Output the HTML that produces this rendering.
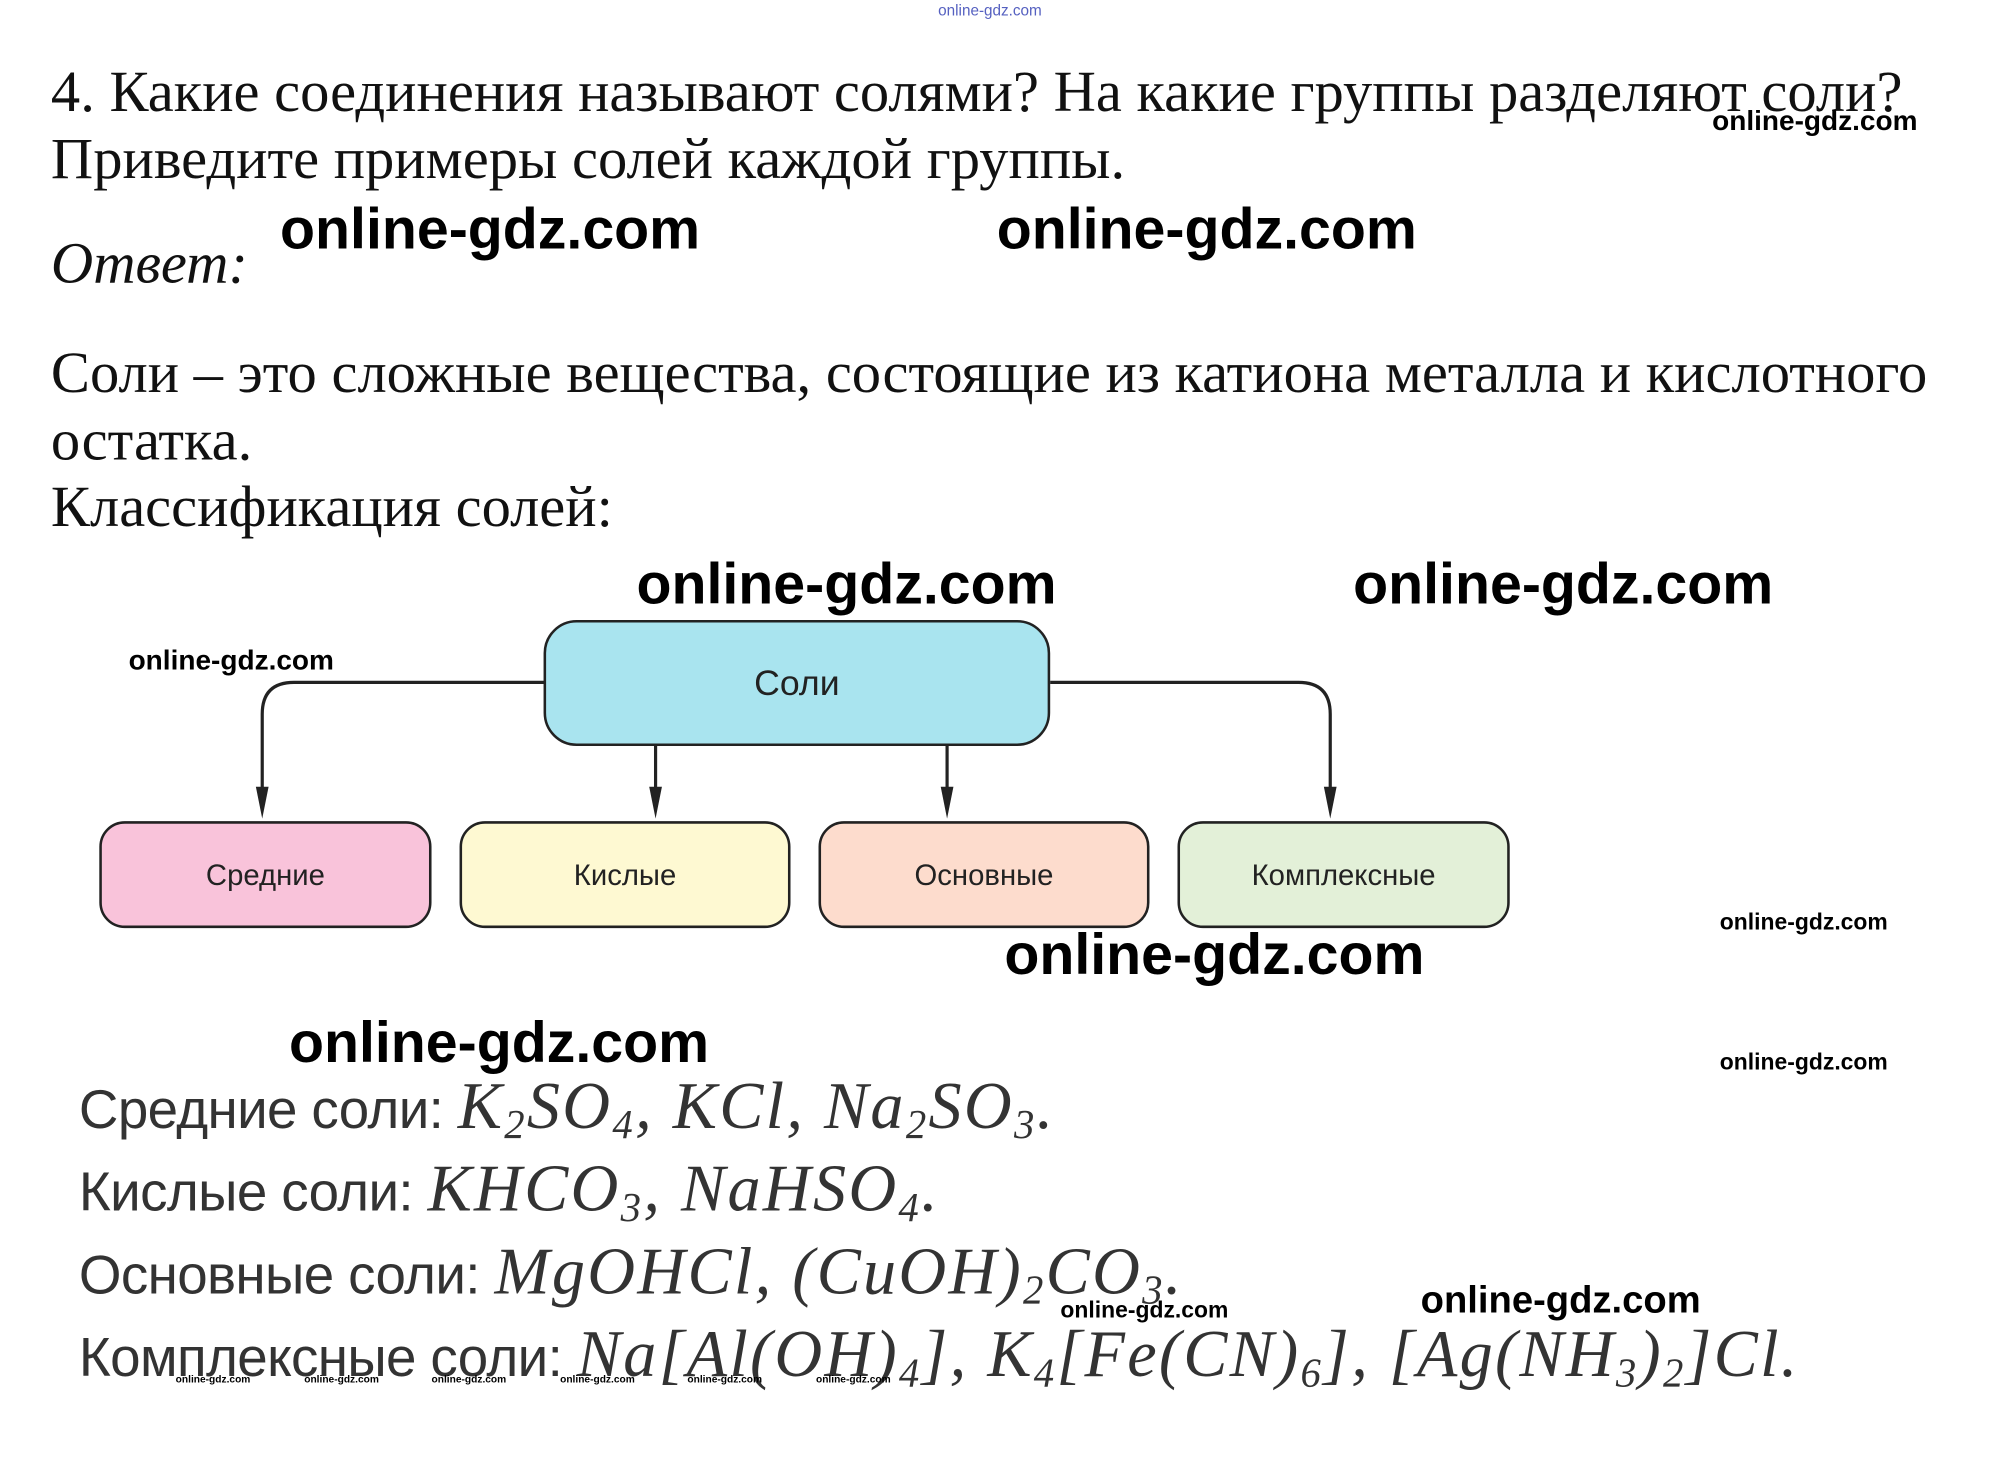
<!DOCTYPE html>
<html><head><meta charset="utf-8"><style>
html,body{margin:0;padding:0;background:#fff;width:1996px;height:1473px;overflow:hidden}
#w{position:absolute;left:0;top:0;width:1568px;height:1157px;transform:scale(1.27296,1.2731);transform-origin:0 0}
.t{position:absolute;white-space:nowrap;line-height:1}
.s{font-family:"Liberation Serif","Noto Serif CJK SC",serif;font-size:46px;color:#111}
.wm{font-family:"Liberation Sans",sans-serif;font-weight:bold;color:#000}
.big{font-size:45px}
.box{position:absolute;border:2.5px solid #222;border-radius:20px;box-sizing:border-box;display:flex;align-items:center;justify-content:center;font-family:"Liberation Sans",sans-serif;font-size:23px;color:#222}
.f{font-family:"Liberation Sans",sans-serif;font-size:43px;color:#333;letter-spacing:-0.5px}
.m{font-family:"Liberation Serif",serif;font-style:italic;font-size:52px;color:#333;letter-spacing:1.8px}
.m sub{font-size:32px;vertical-align:-8px}
</style></head><body><div id="w">
<div class="t" style="left:737px;top:2px;font-family:'Liberation Sans',sans-serif;font-size:12px;color:#5560c0">online-gdz.com</div>
<div class="t s" style="left:40px;top:49px">4. Какие соединения называют солями? На какие группы разделяют соли?</div>
<div class="t wm" style="left:1345px;top:84px;font-size:22px">online-gdz.com</div>
<div class="t s" style="left:40px;top:102px">Приведите примеры солей каждой группы.</div>
<div class="t wm big" style="left:220px;top:157px">online-gdz.com</div>
<div class="t wm big" style="left:783px;top:157px">online-gdz.com</div>
<div class="t s" style="left:40px;top:184px;font-style:italic">Ответ:</div>
<div class="t s" style="left:40px;top:270px">Соли – это сложные вещества, состоящие из катиона металла и кислотного</div>
<div class="t s" style="left:40px;top:323px">остатка.</div>
<div class="t s" style="left:40px;top:375px">Классификация солей:</div>
<div class="t wm big" style="left:500px;top:436px">online-gdz.com</div>
<div class="t wm big" style="left:1063px;top:436px">online-gdz.com</div>
<div class="t wm" style="left:101px;top:508px;font-size:22px">online-gdz.com</div>
<svg style="position:absolute;left:0;top:0" width="1568" height="1157">
<g fill="none" stroke="#222" stroke-width="2.5">
<path d="M428 536 H231 Q206 536 206 561 V625"/>
<path d="M825 536 H1020 Q1045 536 1045 561 V625"/>
<path d="M515 585 V625"/><path d="M744 585 V625"/>
</g>
<g fill="#222">
<path d="M201 618 L211 618 L206 643Z"/><path d="M510 618 L520 618 L515 643Z"/>
<path d="M739 618 L749 618 L744 643Z"/><path d="M1040 618 L1050 618 L1045 643Z"/>
</g></svg>
<div class="box" style="left:427px;top:487px;width:398px;height:99px;background:#a9e4ef;font-size:28px;border-radius:26px">Соли</div>
<div class="box" style="left:78px;top:645px;width:261px;height:84px;background:#f9c3da">Средние</div>
<div class="box" style="left:361px;top:645px;width:260px;height:84px;background:#fef9d2">Кислые</div>
<div class="box" style="left:643px;top:645px;width:260px;height:84px;background:#fddccd">Основные</div>
<div class="box" style="left:925px;top:645px;width:261px;height:84px;background:#e3f0d8">Комплексные</div>
<div class="t wm" style="left:1351px;top:715px;font-size:18px">online-gdz.com</div>
<div class="t wm big" style="left:789px;top:727px">online-gdz.com</div>
<div class="t wm big" style="left:227px;top:796px">online-gdz.com</div>
<div class="t wm" style="left:1351px;top:825px;font-size:18px">online-gdz.com</div>
<div class="t" style="left:62px;top:844px"><span class="f">Средние соли: </span><span class="m">K<sub>2</sub>SO<sub>4</sub>, KCl, Na<sub>2</sub>SO<sub>3</sub>.</span></div>
<div class="t" style="left:62px;top:909px"><span class="f">Кислые соли: </span><span class="m">KHCO<sub>3</sub>, NaHSO<sub>4</sub>.</span></div>
<div class="t" style="left:62px;top:974px"><span class="f">Основные соли: </span><span class="m">MgOHCl, (CuOH)<sub>2</sub>CO<sub>3</sub>.</span></div>
<div class="t wm" style="left:833px;top:1020px;font-size:18px">online-gdz.com</div>
<div class="t wm" style="left:1116px;top:1007px;font-size:30px">online-gdz.com</div>
<div class="t" style="left:62px;top:1039px"><span class="f">Комплексные соли: </span><span class="m">Na[Al(OH)<sub>4</sub>], K<sub>4</sub>[Fe(CN)<sub>6</sub>], [Ag(NH<sub>3</sub>)<sub>2</sub>]Cl.</span></div>
<div class="t wm" style="left:138px;top:1080px;font-size:8px">online-gdz.com</div>
<div class="t wm" style="left:239px;top:1080px;font-size:8px">online-gdz.com</div>
<div class="t wm" style="left:339px;top:1080px;font-size:8px">online-gdz.com</div>
<div class="t wm" style="left:440px;top:1080px;font-size:8px">online-gdz.com</div>
<div class="t wm" style="left:540px;top:1080px;font-size:8px">online-gdz.com</div>
<div class="t wm" style="left:641px;top:1080px;font-size:8px">online-gdz.com</div>
</div></body></html>
